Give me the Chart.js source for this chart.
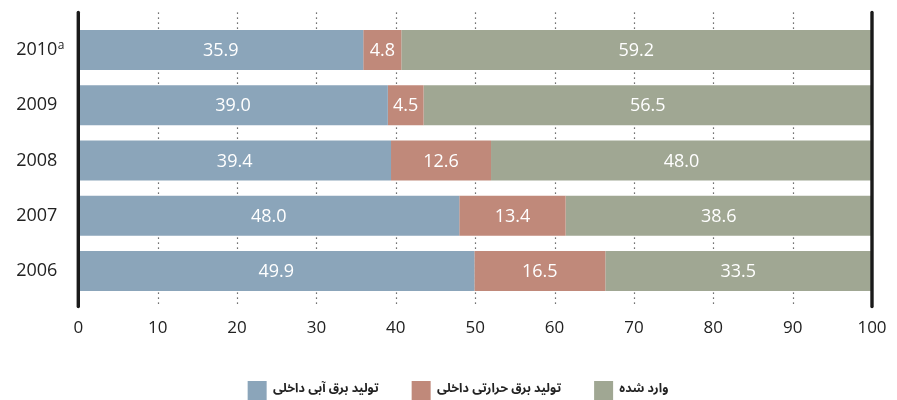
<!DOCTYPE html>
<html>
<head>
<meta charset="utf-8">
<script src="https://cdn.jsdelivr.net/npm/chart.js@4/dist/chart.umd.min.js"></script>
<style>
  html, body { margin: 0; padding: 0; background: #ffffff; }
  #wrap { width: 897px; height: 400px; position: relative; }
</style>
</head>
<body>
<div id="wrap"><canvas id="chart"></canvas></div>
<script>
// Electricity supply shares by year (percent)
const years = ['2010', '2009', '2008', '2007', '2006'];
const yearNotes = ['a', '', '', '', ''];
const hydroDomestic = [35.9, 39.0, 39.4, 48.0, 49.9];
const thermalDomestic = [4.8, 4.5, 12.6, 13.4, 16.5];
const imported = [59.2, 56.5, 48.0, 38.6, 33.5];
const seriesNames = ['تولید برق آبی داخلی', 'تولید برق حرارتی داخلی', 'وارد شده'];
const xTicks = [0, 10, 20, 30, 40, 50, 60, 70, 80, 90, 100];

const colors = ['#8ba5ba', '#c0897a', '#a0a793'];
const numFont = '"Open Sans", "DejaVu Sans", sans-serif';

// keep the plot area exactly where the layout padding puts it
function noScalePadding(scale) {
  scale.paddingTop = 0;
  scale.paddingBottom = 0;
  scale.paddingLeft = 0;
  scale.paddingRight = 0;
}

// nudge the legend row a little to the right of centre
const legendShift = {
  id: 'legendShift',
  afterLayout(chart) {
    if (chart.legend) {
      chart.legend.left += 22;
      chart.legend.right += 22;
    }
  }
};

// dotted grid lines and the heavy axis bars at 0 and 100, reaching above/below the bars
const frame = {
  id: 'frame',
  beforeDatasetsDraw(chart) {
    const { ctx, scales: { x }, chartArea } = chart;
    ctx.save();
    ctx.strokeStyle = '#444';
    ctx.lineWidth = 1.2;
    ctx.setLineDash([1.4, 3.6]);
    xTicks.slice(1, -1).forEach(v => {
      const px = Math.round(x.getPixelForValue(v)) + 0.5;
      ctx.beginPath();
      ctx.moveTo(px, chartArea.top - 10);
      ctx.lineTo(px, chartArea.bottom + 8);
      ctx.stroke();
    });
    ctx.restore();
  },
  afterDatasetsDraw(chart) {
    const { ctx, scales: { x, y }, chartArea } = chart;
    ctx.save();
    // value labels inside each segment
    ctx.fillStyle = '#ffffff';
    ctx.font = '18px ' + numFont;
    ctx.textAlign = 'center';
    ctx.textBaseline = 'middle';
    chart.data.datasets.forEach((ds, di) => {
      chart.getDatasetMeta(di).data.forEach((bar, i) => {
        const cx = (bar.x + bar.base) / 2;
        ctx.fillText(ds.data[i].toFixed(1), cx, bar.y + 1);
      });
    });
    // axis bars
    ctx.strokeStyle = '#1a1a1a';
    ctx.lineWidth = 3.4;
    ctx.lineCap = 'round';
    [0, 100].forEach(v => {
      const px = x.getPixelForValue(v);
      ctx.beginPath();
      ctx.moveTo(px, chartArea.top - 10);
      ctx.lineTo(px, chartArea.bottom + 8);
      ctx.stroke();
    });
    // footnote markers on year labels
    ctx.fillStyle = '#222';
    ctx.textAlign = 'left';
    ctx.textBaseline = 'alphabetic';
    years.forEach((yr, i) => {
      if (!yearNotes[i]) return;
      const right = y.right - y.options.ticks.padding;
      const py = y.getPixelForValue(i);
      ctx.font = '12px ' + numFont;
      ctx.fillText(yearNotes[i], right + 0.5, py - 1);
    });
    ctx.restore();
  }
};

new Chart(document.getElementById('chart'), {
  type: 'bar',
  data: {
    labels: years,
    datasets: [
      { label: seriesNames[0], data: hydroDomestic, backgroundColor: colors[0] },
      { label: seriesNames[1], data: thermalDomestic, backgroundColor: colors[1] },
      { label: seriesNames[2], data: imported, backgroundColor: colors[2] }
    ]
  },
  options: {
    indexAxis: 'y',
    responsive: true,
    maintainAspectRatio: false,
    animation: false,
    categoryPercentage: 1,
    barPercentage: 0.724,
    layout: { padding: { top: 22.4, right: 25, left: 0, bottom: -10 } },
    scales: {
      x: {
        stacked: true,
        min: 0,
        max: 100,
        afterBuildTicks(scale) { scale.ticks = xTicks.map(v => ({ value: v })); },
        afterFit(scale) { scale.height = 49.4; noScalePadding(scale); },
        grid: { display: false, drawTicks: false },
        border: { display: false },
        ticks: { color: '#222', font: { family: numFont, size: 17 }, padding: 19, maxRotation: 0 }
      },
      y: {
        stacked: true,
        afterFit(scale) { scale.width = 78.3; noScalePadding(scale); },
        grid: { display: false, drawTicks: false },
        border: { display: false },
        ticks: { color: '#222', font: { family: numFont, size: 18 }, padding: 21 }
      }
    },
    plugins: {
      tooltip: { enabled: false },
      legend: {
        position: 'bottom',
        labels: {
          boxWidth: 19,
          boxHeight: 19,
          padding: 33,
          color: '#222',
          font: { family: '"Noto Sans Arabic", "Noto Naskh Arabic", "DejaVu Sans", sans-serif', size: 12.5, weight: 'bold' }
        }
      }
    }
  },
  plugins: [frame, legendShift]
});
</script>
</body>
</html>
